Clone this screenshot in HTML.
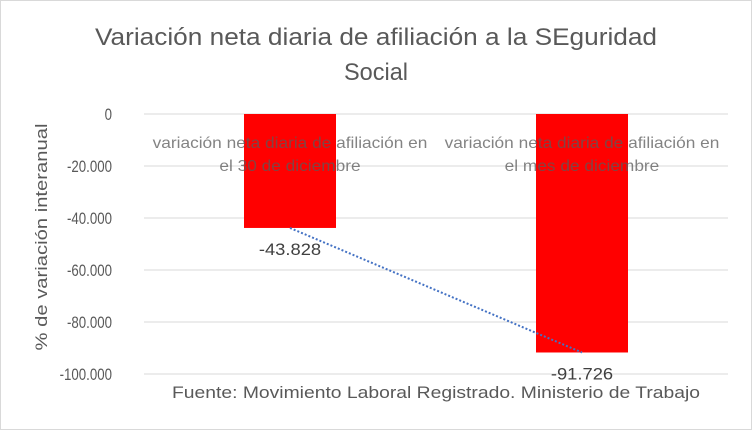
<!DOCTYPE html>
<html><head><meta charset="utf-8"><style>
body{margin:0;background:#fff;}
svg{display:block;font-family:"Liberation Sans",sans-serif;}
</style></head><body>
<svg id="c" width="752" height="430">
<rect x="0.5" y="0.5" width="751" height="429" fill="#fff" stroke="#d9d9d9"/>
<text x="376" y="45" text-anchor="middle" font-size="24" fill="#595959" textLength="562" lengthAdjust="spacingAndGlyphs">Variación neta diaria de afiliación a la SEguridad</text>
<text x="376" y="80" text-anchor="middle" font-size="24" fill="#595959" textLength="64" lengthAdjust="spacingAndGlyphs">Social</text>
<text transform="translate(47,237) rotate(-90)" text-anchor="middle" font-size="17" fill="#595959" textLength="227" lengthAdjust="spacingAndGlyphs">% de variación interanual</text>
<text x="436" y="398" text-anchor="middle" font-size="17" fill="#595959" textLength="528" lengthAdjust="spacingAndGlyphs">Fuente: Movimiento Laboral Registrado. Ministerio de Trabajo</text>
<g id="grid"></g><g id="bars"></g><g id="trend"></g><g id="labels"></g>
</svg>
<script>
const categories=[["variación neta diaria de afiliación en","el 30 de diciembre"],["variación neta diaria de afiliación en","el mes de diciembre"]];
const values=[-43828,-91726];
const dataLabels=["-43.828","-91.726"];
const ticks=[0,-20000,-40000,-60000,-80000,-100000];
const tickLabels=["0","-20.000","-40.000","-60.000","-80.000","-100.000"];
const NS="http://www.w3.org/2000/svg";
const x0=144,x1=728,y0=114,yScale=260/100000;
const y=v=>y0-v*yScale;
const bandW=(x1-x0)/categories.length;
const cx=i=>x0+bandW*(i+0.5);
function mk(t,a,p){const e=document.createElementNS(NS,t);for(const k in a)e.setAttribute(k,a[k]);p.appendChild(e);return e;}
function stretch(e,f){const w=e.getComputedTextLength();e.setAttribute('textLength',w*f);e.setAttribute('lengthAdjust','spacingAndGlyphs');}
const g=document.getElementById('grid');
ticks.forEach((t,i)=>{
 const l=mk('line',{x1:x0,x2:x1,y1:y(t),y2:y(t),stroke:'#d9d9d9','stroke-width':1},g);
 
 
 const tx=mk('text',{x:112,y:y(t)+6,'text-anchor':'end','font-size':17,fill:'#595959'},g);
 tx.textContent=tickLabels[i];
 
 
 stretch(tx,0.78);
});
const b=document.getElementById('bars'),lb=document.getElementById('labels');
const bw=92;
values.forEach((v,i)=>{
 const r=mk('rect',{x:cx(i)-bw/2,y:y(0),width:bw,height:y(v)-y(0),fill:'#ff0000'},b);
 
 
 const d=mk('text',{x:cx(i),y:y(v)+27,'text-anchor':'middle','font-size':17,fill:'#404040'},lb);
 d.textContent=dataLabels[i];
 
 
 stretch(d,1.08);
 categories[i].forEach((s,j)=>{
  const c=mk('text',{x:cx(i),y:148+j*23,'text-anchor':'middle','font-size':16,fill:'#595959','fill-opacity':0.75},lb);
  c.textContent=s;
  
  
  stretch(c,1.08);
 });
});
const tl=mk('line',{x1:cx(0),y1:y(values[0]),x2:cx(1),y2:y(values[1]),stroke:'#4472c4','stroke-width':2,'stroke-dasharray':'2 2'},document.getElementById('trend'));


</script>
</body></html>
